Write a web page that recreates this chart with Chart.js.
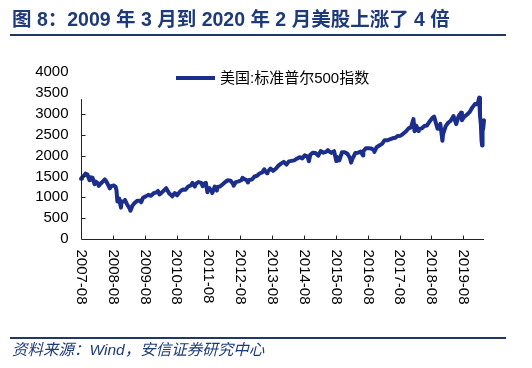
<!DOCTYPE html>
<html>
<head>
<meta charset="utf-8">
<script src="https://cdn.jsdelivr.net/npm/chart.js@4/dist/chart.umd.min.js"></script>
<style>
  body { margin: 0; background: #fff; }
  #wrap { position: relative; width: 532px; height: 368px; overflow: hidden; }
  #chartBox { position: absolute; left: 0; top: 0; width: 532px; height: 368px; }
  .title { position: absolute; left: 12px; top: 5px; line-height: 28px; font-size: 19.5px; font-weight: bold; color: #1f3a78;
    font-family: "Liberation Sans", Arial, "Noto Sans CJK SC", sans-serif; white-space: nowrap; }
  .rule { position: absolute; left: 10px; width: 496px; height: 1.5px; background: #1f3864; }
  .source { position: absolute; left: 12px; top: 340px; line-height: 20px; font-size: 15.5px; font-style: italic; color: #1f3a78;
    font-family: "Liberation Sans", Arial, "Noto Sans CJK SC", sans-serif; white-space: nowrap; }
</style>
</head>
<body>
<div id="wrap">
  <div id="chartBox"><canvas id="chart"></canvas></div>
  <div class="title">图 8：2009 年 3 月到 2020 年 2 月美股上涨了 4 倍</div>
  <div class="rule" style="top:34px"></div>
  <div class="rule" style="top:337px"></div>
  <div class="source">资料来源：Wind，安信证券研究中心</div>
</div>
<script>
'use strict'

const seriesName = '美国:标准普尔500指数';
const startDate = '2007-08-20';
const endDate = '2020-04-14';
const yTicks = [0, 500, 1000, 1500, 2000, 2500, 3000, 3500, 4000];
const yMarks = [500, 1000, 1500, 2000, 2500, 3000];
const xTickLabels = ['2007-08', '2008-08', '2009-08', '2010-08', '2011-08', '2012-08', '2013-08',
  '2014-08', '2015-08', '2016-08', '2017-08', '2018-08', '2019-08'];

const dates = [
  '2007-08-20','2007-08-31','2007-09-28','2007-10-09','2007-10-31','2007-11-26','2007-11-30','2007-12-31',
  '2008-01-22','2008-01-31','2008-02-29','2008-03-10','2008-03-31','2008-04-30','2008-05-19','2008-05-30',
  '2008-06-30','2008-07-15','2008-07-31','2008-08-29','2008-09-19','2008-09-30','2008-10-10','2008-10-31',
  '2008-11-20','2008-11-28','2008-12-31',
  '2009-01-06','2009-01-30','2009-02-27','2009-03-09','2009-03-31','2009-04-30','2009-05-29','2009-06-30',
  '2009-07-10','2009-07-31','2009-08-31','2009-09-30','2009-10-30','2009-11-30','2009-12-31',
  '2010-01-19','2010-02-05','2010-02-26','2010-03-31','2010-04-23','2010-05-28','2010-06-30','2010-07-02',
  '2010-07-30','2010-08-26','2010-09-30','2010-10-29','2010-11-30','2010-12-31',
  '2011-01-31','2011-02-18','2011-03-16','2011-03-31','2011-04-29','2011-05-31','2011-06-15','2011-06-30',
  '2011-07-22','2011-08-08','2011-08-31','2011-09-30','2011-10-03','2011-10-31','2011-11-25','2011-11-30',
  '2011-12-30',
  '2012-01-31','2012-02-29','2012-03-30','2012-04-30','2012-05-31','2012-06-04','2012-06-29','2012-07-31',
  '2012-08-31','2012-09-14','2012-09-28','2012-10-31','2012-11-15','2012-11-30','2012-12-31',
  '2013-01-31','2013-02-28','2013-03-28','2013-04-30','2013-05-21','2013-05-31','2013-06-24','2013-06-28',
  '2013-07-31','2013-08-30','2013-09-30','2013-10-31','2013-11-29','2013-12-31',
  '2014-01-31','2014-02-28','2014-03-31','2014-04-30','2014-05-30','2014-06-30','2014-07-31','2014-08-29',
  '2014-09-30','2014-10-15','2014-10-31','2014-11-28','2014-12-31',
  '2015-01-30','2015-02-27','2015-03-31','2015-04-30','2015-05-21','2015-05-29','2015-06-30','2015-07-31',
  '2015-08-25','2015-08-31','2015-09-29','2015-10-30','2015-11-30','2015-12-31',
  '2016-01-29','2016-02-11','2016-02-29','2016-03-31','2016-04-29','2016-05-31','2016-06-27','2016-06-30',
  '2016-07-29','2016-08-31','2016-09-30','2016-10-31','2016-11-04','2016-11-30','2016-12-30',
  '2017-01-31','2017-02-28','2017-03-31','2017-04-28','2017-05-31','2017-06-30','2017-07-31','2017-08-31',
  '2017-09-29','2017-10-31','2017-11-30','2017-12-29',
  '2018-01-26','2018-02-08','2018-02-28','2018-03-23','2018-03-29','2018-04-30','2018-05-31','2018-06-29',
  '2018-07-31','2018-08-31','2018-09-20','2018-10-29','2018-10-31','2018-11-23','2018-11-30','2018-12-24',
  '2018-12-31',
  '2019-01-31','2019-02-28','2019-03-29','2019-04-30','2019-05-31','2019-06-28','2019-07-26','2019-08-05',
  '2019-08-30','2019-09-30','2019-10-31','2019-11-29','2019-12-31',
  '2020-01-31','2020-02-19','2020-02-28','2020-03-09','2020-03-16','2020-03-23','2020-03-26','2020-03-31',
  '2020-04-06','2020-04-14'
];

const spx = [
  1445,1474,1527,1565,1549,1407,1481,1468,
  1310,1379,1331,1273,1323,1386,1426,1400,
  1280,1214,1267,1283,1255,1166,899,969,
  752,896,903,
  935,826,735,677,798,873,919,919,
  879,987,1021,1057,1036,1096,1115,
  1150,1066,1104,1169,1217,1089,1031,1022,
  1102,1047,1141,1183,1181,1258,
  1286,1343,1256,1326,1364,1345,1266,1321,
  1345,1119,1219,1131,1099,1253,1159,1247,
  1258,
  1312,1366,1408,1398,1310,1278,1362,1379,
  1407,1466,1441,1412,1353,1416,1426,
  1498,1515,1569,1598,1669,1631,1573,1606,
  1686,1633,1682,1757,1806,1848,
  1783,1859,1872,1884,1924,1960,1931,2003,
  1972,1862,2018,2068,2059,
  1995,2105,2068,2086,2131,2107,2063,2104,
  1868,1972,1884,2079,2080,2044,
  1940,1829,1932,2060,2065,2097,2001,2099,
  2174,2171,2168,2126,2085,2199,2239,
  2279,2364,2363,2384,2412,2423,2470,2472,
  2519,2575,2648,2674,
  2873,2581,2714,2588,2641,2648,2705,2718,
  2816,2902,2931,2641,2712,2633,2760,2351,
  2507,
  2704,2784,2834,2946,2752,2942,3026,2845,
  2926,2977,3038,3141,3231,
  3226,3386,2954,2747,2386,2237,2630,2585,
  2664,2846
];

// years since the first observation, used for the x position
function yearsFromStart(s) {
  return (Date.parse(s) - Date.parse(startDate)) / (365.25 * 24 * 3600 * 1000);
}

const points = dates.map((d, i) => ({ x: yearsFromStart(d), y: spx[i] }));

const lineColor = '#1c2e8c';
const axisColor = '#222';
const tickFont = '15px "Liberation Sans", Arial, sans-serif';

const axesPlugin = {
  id: 'excelAxes',
  afterDatasetsDraw(chart) {
    const ctx = chart.ctx;
    const xs = chart.scales.x, ys = chart.scales.y;
    const x0 = Math.round(xs.getPixelForValue(0)) + 0.5;
    const y0 = Math.round(ys.getPixelForValue(0)) + 0.5;
    ctx.save();
    ctx.strokeStyle = axisColor;
    ctx.lineWidth = 1;
    ctx.beginPath();
    // y axis stops short of the top like the original
    ctx.moveTo(x0, y0);
    ctx.lineTo(x0, ys.getPixelForValue(3350));
    ctx.moveTo(x0, y0);
    ctx.lineTo(xs.right, y0);
    yMarks.forEach(v => {
      const y = Math.round(ys.getPixelForValue(v)) + 0.5;
      ctx.moveTo(x0, y);
      ctx.lineTo(x0 + 4, y);
    });
    xTickLabels.forEach((lab, i) => {
      if (i === 0) return;
      const x = Math.round(xs.getPixelForValue(i)) + 0.5;
      ctx.moveTo(x, y0);
      ctx.lineTo(x, y0 - 4);
    });
    ctx.stroke();

    ctx.fillStyle = '#000';
    ctx.font = tickFont;
    ctx.textAlign = 'right';
    ctx.textBaseline = 'middle';
    yTicks.forEach(v => {
      ctx.fillText(String(v), x0 - 13, ys.getPixelForValue(v));
    });

    // x labels read top to bottom
    ctx.textAlign = 'left';
    xTickLabels.forEach((lab, i) => {
      const x = xs.getPixelForValue(i);
      ctx.save();
      ctx.translate(x, y0 + 10);
      ctx.rotate(Math.PI / 2);
      ctx.fillText(lab, 0, 0);
      ctx.restore();
    });

    // legend
    const ds = chart.data.datasets[0];
    ctx.strokeStyle = ds.borderColor;
    ctx.lineWidth = 4;
    ctx.beginPath();
    ctx.moveTo(176, 78);
    ctx.lineTo(215, 78);
    ctx.stroke();
    ctx.font = '15px "Liberation Sans", Arial, "Noto Sans CJK SC", sans-serif';
    ctx.fillText(ds.label, 220, 79);
    ctx.restore();
  }
};

new Chart(document.getElementById('chart'), {
  type: 'line',
  data: {
    datasets: [{
      label: seriesName,
      data: points,
      borderColor: lineColor,
      borderWidth: 4,
      borderJoinStyle: 'round',
      borderCapStyle: 'round',
      pointRadius: 0,
      tension: 0,
      clip: false
    }]
  },
  options: {
    responsive: true,
    maintainAspectRatio: false,
    animation: false,
    layout: { padding: { left: 81, right: 48, top: 72, bottom: 129 } },
    plugins: { legend: { display: false }, tooltip: { enabled: false } },
    scales: {
      x: { type: 'linear', display: false, min: 0, max: yearsFromStart(endDate) },
      y: { type: 'linear', display: false, min: 0, max: 4000 }
    }
  },
  plugins: [axesPlugin]
});
</script>
</body>
</html>
